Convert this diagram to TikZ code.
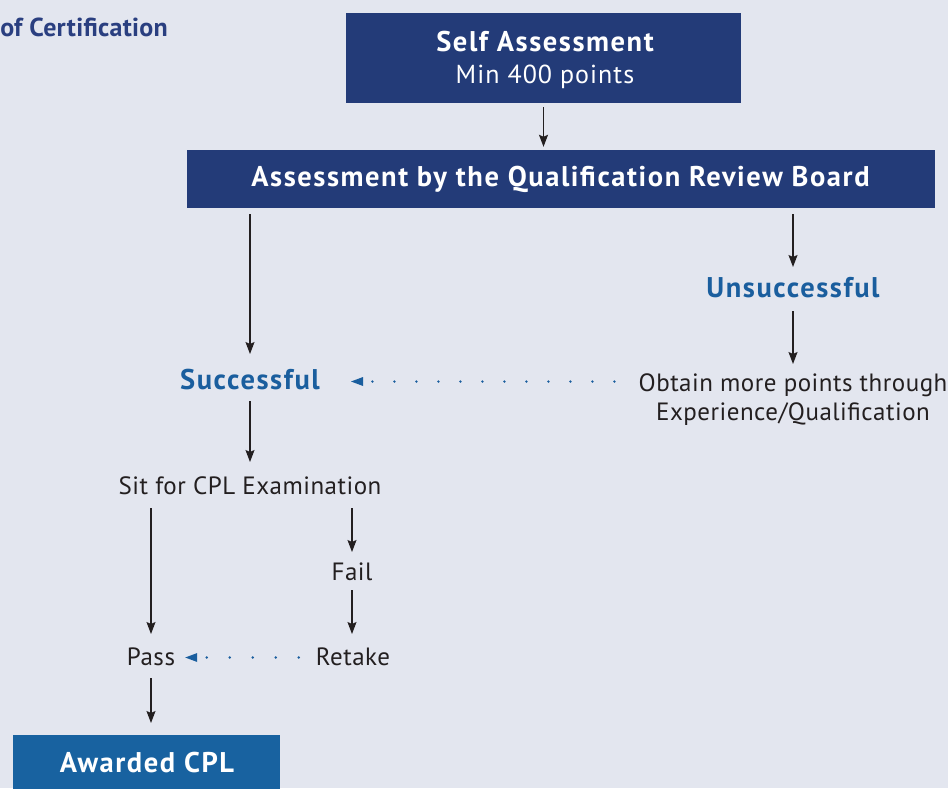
\documentclass[tikz,border=0pt]{standalone}
\usepackage{fontspec}
\setmainfont{PT Sans}[LetterSpace=4]
\newfontfamily\lblfont{PT Sans}[LetterSpace=2]
\newfontfamily\titlefont{PT Sans}[LetterSpace=1]
\newfontfamily\bfont{PT Sans}[LetterSpace=5.5]
\usetikzlibrary{arrows.meta}
\definecolor{bg}{HTML}{E3E6EF}
\definecolor{navy}{HTML}{233B78}
\definecolor{midblue}{HTML}{1862A0}
\definecolor{lblue}{HTML}{1A5E9E}
\definecolor{titleblue}{HTML}{2A3F80}
\definecolor{ink}{HTML}{231F20}
\tikzset{
  navybox/.style={fill=navy, inner sep=0pt},
  awardbox/.style={fill=midblue, inner sep=0pt},
  boxtext/.style={anchor=base, inner sep=0pt, text=white, font=\bfont\fontsize{28.5}{32}\selectfont\bfseries},
  subtext/.style={anchor=base, inner sep=0pt, text=white, font=\rmfamily\fontsize{26}{30}\selectfont},
  lbl/.style={anchor=base, inner sep=0pt, text=ink, font=\lblfont\fontsize{25}{30}\selectfont},
  outcome/.style={anchor=base, inner sep=0pt, text=lblue, font=\bfont\fontsize{28.5}{32}\selectfont\bfseries},
  arr/.style={draw=ink, line width=1.3pt, -{Stealth[length=12pt,width=9pt,inset=2pt]}},
  dotarr/.style={draw=lblue, line width=2.6pt, line cap=round, dash pattern=on 0pt off 22pt,
     -{Triangle[length=12pt,width=9pt,line width=0pt,fill=lblue]}},
}
\begin{document}
\begin{tikzpicture}[x=1pt,y=-1pt]
\fill[bg] (0,0) rectangle (948,788);
\useasboundingbox (0,0) rectangle (948,788);
% title
\node[anchor=base east, inner sep=0pt, text=titleblue, font=\titlefont\fontsize{26}{28}\selectfont\bfseries] (title) at (168,36) {of Certification};
% boxes
\node[navybox, minimum width=395pt, minimum height=90pt] (self) at (543.5,58) {};
\node[boxtext] (selft) at (545,51.7) {Self Assessment};
\node[subtext] (selfsub) at (545,83.3) {Min 400 points};
\node[navybox, minimum width=748pt, minimum height=58pt] (qrb) at (561,179) {};
\node[boxtext] (qrbt) at (560.5,186.7) {Assessment by the Qualification Review Board};
\node[awardbox, minimum width=267pt, minimum height=60pt, anchor=north west] (award) at (13,735) {};
\node[boxtext] (awardt) at (147,772.3) {Awarded CPL};
% labels
\node[outcome] (succ) at (250,389) {Successful};
\node[outcome] (unsucc) at (793,297) {Unsuccessful};
\node[lbl] (obtain1) at (793,391) {Obtain more points through};
\node[lbl] (obtain2) at (793,420) {Experience/Qualification};
\node[lbl] (sit) at (250,494) {Sit for CPL Examination};
\node[lbl] (fail) at (352,580) {Fail};
\node[lbl] (retake) at (353,665) {Retake};
\node[lbl] (pass) at (151,665) {Pass};
% arrows
\draw[arr] ([yshift=-4pt]self.south) -- ([yshift=3pt]self.south |- qrb.north);
\draw[arr] ([yshift=-6pt]qrb.south -| succ.base) -- ([yshift=35pt]succ.base);
\draw[arr] ([yshift=-6pt]qrb.south -| unsucc.base) -- ([yshift=30pt]unsucc.base);
\draw[arr] ([yshift=-14pt]unsucc.base) -- ([yshift=27pt]obtain1.base);
\draw[arr] ([yshift=-12pt]succ.base) -- ([yshift=32pt]sit.base -| succ.base);
\draw[arr] ([yshift=-14pt]sit.base -| pass.base) -- ([yshift=31pt]pass.base);
\draw[arr] ([yshift=-14pt]sit.base -| fail.base) -- ([yshift=28pt]fail.base);
\draw[arr] ([yshift=-10pt]fail.base) -- ([yshift=31pt]retake.base -| fail.base);
\draw[arr] ([yshift=-13pt]pass.base) -- ([yshift=12pt]award.north -| pass.base);
\draw[dotarr, shorten <=24pt, shorten >=31pt] ([yshift=7.5pt]succ.base -| obtain1.west) -- ([yshift=7.5pt]succ.base east);
\draw[dotarr, dash pattern=on 0pt off 23pt, shorten <=17pt, shorten >=10pt] ([yshift=7.5pt]retake.base west) -- ([yshift=7.5pt]pass.base east);
\end{tikzpicture}
\end{document}
